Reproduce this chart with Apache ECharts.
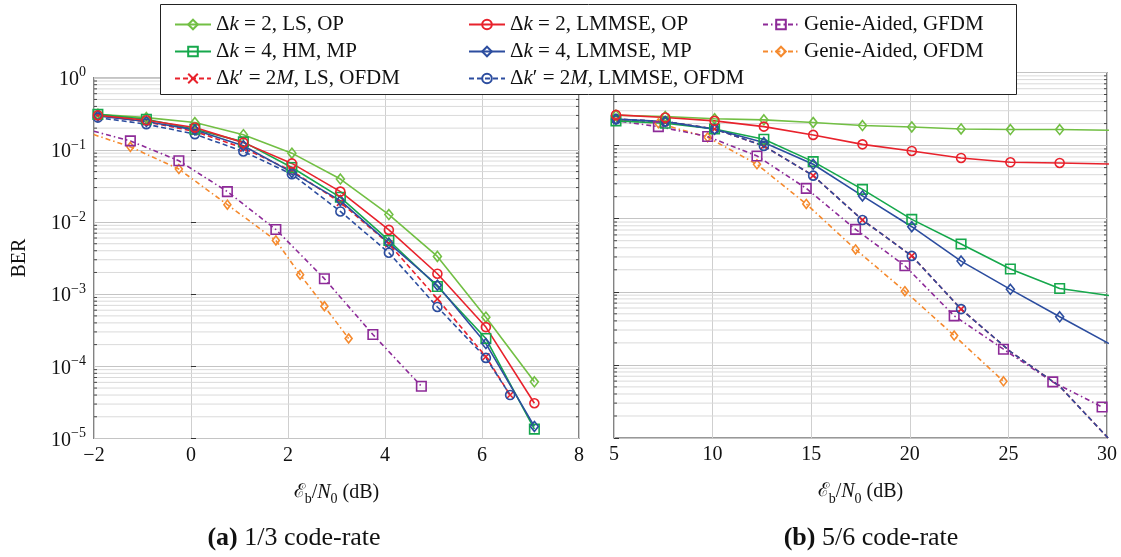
<!DOCTYPE html>
<html>
<head>
<meta charset="utf-8">
<script src="https://cdn.jsdelivr.net/npm/echarts@6/dist/echarts.min.js"></script>
<style>
  html, body { margin: 0; padding: 0; background: #fff; }
  #chart { width: 1121px; height: 557px; }
</style>
</head>
<body>
<div id="chart"></div>
<script>
// ---------- (a) 1/3 code-rate : Eb/N0 grids in dB ----------
const ebnoA        = [-1.92, -0.92, 0.08, 1.08, 2.08, 3.08, 4.08, 5.08, 6.08, 7.08];
const ebnoAofdm    = [-1.92, -0.92, 0.08, 1.08, 2.08, 3.08, 4.08, 5.08, 6.08, 6.58];
const ebnoAgenieG  = [-2.25, -1.25, -0.25, 0.75, 1.75, 2.75, 3.75, 4.75];
const ebnoAgenieO  = [-2.25, -1.25, -0.25, 0.75, 1.75, 2.25, 2.75, 3.25];

// BER values, 1/3 code-rate
const berA_dk2LS     = [0.312, 0.28, 0.239, 0.162, 0.090, 0.0394, 0.0127, 0.00334, 4.8e-4, 6.1e-5];
const berA_dk2LMMSE  = [0.302, 0.257, 0.204, 0.126, 0.0649, 0.0264, 0.00778, 0.00192, 3.5e-4, 3.08e-5];
const berA_dk4HM     = [0.31, 0.266, 0.193, 0.129, 0.057, 0.022, 0.00555, 0.00128, 2.43e-4, 1.35e-5];
const berA_dk4LMMSE  = [0.295, 0.247, 0.189, 0.114, 0.0487, 0.0198, 0.0051, 0.00133, 2.07e-4, 1.47e-5];
const berA_ofdmLS    = [0.30, 0.245, 0.18, 0.106, 0.051, 0.0187, 0.005, 8.6e-4, 1.36e-4, 4.0e-5];
const berA_ofdmLMMSE = [0.28, 0.227, 0.165, 0.095, 0.046, 0.014, 0.00375, 6.65e-4, 1.31e-4, 4.0e-5];
const berA_genieGFDM = [0.2, 0.133, 0.0706, 0.0264, 0.00787, 0.00164, 2.76e-4, 5.3e-5];
const berA_genieOFDM = [0.185, 0.110, 0.0542, 0.0174, 0.00555, 0.00186, 6.8e-4, 2.43e-4];

// ---------- (b) 5/6 code-rate : Eb/N0 grids in dB ----------
const ebnoB        = [5.1, 7.6, 10.1, 12.6, 15.1, 17.6, 20.1, 22.6, 25.1, 27.6, 30.1];
const ebnoBgenieG  = [4.75, 7.25, 9.75, 12.25, 14.75, 17.25, 19.75, 22.25, 24.75, 27.25, 29.75];
const ebnoBgenieO  = [4.75, 7.25, 9.75, 12.25, 14.75, 17.25, 19.75, 22.25, 24.75];

// BER values, 5/6 code-rate
const berB_dk2LS     = [0.26, 0.25, 0.233, 0.225, 0.207, 0.188, 0.180, 0.169, 0.166, 0.166, 0.162];
const berB_dk2LMMSE  = [0.263, 0.242, 0.218, 0.182, 0.140, 0.104, 0.0845, 0.0678, 0.0591, 0.0579, 0.056];
const berB_dk4HM     = [0.218, 0.202, 0.169, 0.122, 0.0604, 0.0252, 0.0098, 0.0045, 0.00205, 0.00111, 8.9e-4];
const berB_dk4LMMSE  = [0.23, 0.213, 0.167, 0.11, 0.0555, 0.0205, 0.00777, 0.00263, 0.00108, 4.55e-4, 1.96e-4];
const berB_ofdmLS    = [0.23, 0.213, 0.169, 0.099, 0.0388, 0.0096, 0.0031, 5.8e-4, 1.52e-4, 5.1e-5, 9.7e-6];
const berB_ofdmLMMSE = [0.23, 0.213, 0.169, 0.099, 0.0388, 0.0096, 0.0031, 5.8e-4, 1.52e-4, 5.1e-5, 9.7e-6];
const berB_genieGFDM = [0.225, 0.182, 0.133, 0.0722, 0.026, 0.00714, 0.00227, 4.69e-4, 1.64e-4, 5.85e-5, 2.66e-5];
const berB_genieOFDM = [0.23, 0.202, 0.130, 0.0555, 0.0159, 0.0038, 0.00102, 2.52e-4, 5.97e-5];
// the OFDM reference curves at 5/6 carry markers on their first points only
const ofdmMarkedPointsB = 8;

// x tick settings
const xTicksA = { min: -2, max: 8, step: 2 };
const xTicksB = { min: 5, max: 30, step: 5 };

// series names
const N = {
  dk2LS: 'Δk = 2, LS, OP',
  dk2LMMSE: 'Δk = 2, LMMSE, OP',
  genieG: 'Genie-Aided, GFDM',
  dk4HM: 'Δk = 4, HM, MP',
  dk4LMMSE: 'Δk = 4, LMMSE, MP',
  genieO: 'Genie-Aided, OFDM',
  ofdmLS: 'Δk′ = 2M, LS, OFDM',
  ofdmLMMSE: 'Δk′ = 2M, LMMSE, OFDM'
};

// rich-text legend labels (italic k and M)
const legendRich = {
  [N.dk2LS]: '{n|Δ}{i|k}{n| = 2, LS, OP}',
  [N.dk2LMMSE]: '{n|Δ}{i|k}{n| = 2, LMMSE, OP}',
  [N.genieG]: '{n|Genie-Aided, GFDM}',
  [N.dk4HM]: '{n|Δ}{i|k}{n| = 4, HM, MP}',
  [N.dk4LMMSE]: '{n|Δ}{i|k}{n| = 4, LMMSE, MP}',
  [N.genieO]: '{n|Genie-Aided, OFDM}',
  [N.ofdmLS]: '{n|Δ}{i|k}{n|′ = 2}{i|M}{n|, LS, OFDM}',
  [N.ofdmLMMSE]: '{n|Δ}{i|k}{n|′ = 2}{i|M}{n|, LMMSE, OFDM}'
};

const SERIF = 'Liberation Serif, Times New Roman, serif';
const C = {
  lightGreen: '#72bf44',
  red: '#e8222c',
  green: '#16a84c',
  blue: '#2c4d9f',
  purple: '#8d2a98',
  orange: '#f58a2e'
};
const XPATH = 'path://M0,0L10,10M10,0L0,10';

const styles = {
  [N.dk2LS]:    { color: C.lightGreen, symbol: 'diamond', size: [8, 10], dash: 'solid' },
  [N.dk2LMMSE]: { color: C.red, symbol: 'circle', size: 9, dash: 'solid' },
  [N.dk4HM]:    { color: C.green, symbol: 'rect', size: 9.5, dash: 'solid' },
  [N.dk4LMMSE]: { color: C.blue, symbol: 'diamond', size: [8, 10], dash: 'solid' },
  [N.ofdmLS]:   { color: C.red, symbol: XPATH, size: 7, dash: [5, 3] },
  [N.ofdmLMMSE]:{ color: C.blue, symbol: 'circle', size: 9, dash: [5, 3] },
  [N.genieG]:   { color: C.purple, symbol: 'rect', size: 9.5, dash: [5, 3, 1.5, 3] },
  [N.genieO]:   { color: C.orange, symbol: 'diamond', size: [7, 9], dash: [5, 3, 1.5, 3] }
};

function curve(name, xs, ys, g, markedCount) {
  const s = styles[name];
  const data = xs.map((x, i) => {
    if (markedCount !== undefined && i >= markedCount) {
      return { value: [x, ys[i]], symbol: 'none' };
    }
    return [x, ys[i]];
  });
  return {
    type: 'line', name, xAxisIndex: g, yAxisIndex: g, data,
    symbol: s.symbol, symbolSize: s.size, showAllSymbol: true, clip: true,
    lineStyle: { color: s.color, width: 1.6, type: s.dash },
    itemStyle: { color: 'rgba(255,255,255,0)', borderColor: s.color, borderWidth: 1.6 },
    emphasis: { disabled: true }, silent: true, z: 3
  };
}

// minor log grid lines (2..9 per decade) with small inward ticks on both sides
const minorVals = [];
for (let k = -5; k <= -1; k++) for (let m = 2; m <= 9; m++) minorVals.push(m * Math.pow(10, k));

function minorGrid(g, xmin) {
  return {
    type: 'custom', xAxisIndex: g, yAxisIndex: g, silent: true, z: 1, clip: true,
    data: minorVals.map(v => [xmin, v]),
    renderItem: (params, api) => {
      const cs = params.coordSys;
      const y = api.coord([api.value(0), api.value(1)])[1];
      const x0 = cs.x, x1 = cs.x + cs.width;
      return {
        type: 'group',
        children: [
          { type: 'line', shape: { x1: x0, y1: y, x2: x1, y2: y }, style: { stroke: '#dadada', lineWidth: 1 } },
          { type: 'line', shape: { x1: x0, y1: y, x2: x0 + 3, y2: y }, style: { stroke: '#444', lineWidth: 1 } },
          { type: 'line', shape: { x1: x1 - 3, y1: y, x2: x1, y2: y }, style: { stroke: '#444', lineWidth: 1 } }
        ]
      };
    }
  };
}

const tickFmt = v => (v < 0 ? '−' + (-v) : String(v));
const logFmt = v => {
  const e = Math.round(Math.log10(v));
  return '{b|10}{s|' + (e < 0 ? '−' + (-e) : e) + '}';
};
const xName = '{e|ℰ}{sub|b}{n|/}{i|N}{sub|0}{n| (dB)}';
const xNameRich = {
  e: { fontFamily: 'DejaVu Serif', fontSize: 19, lineHeight: 24, verticalAlign: 'top', color: '#111' },
  n: { fontFamily: SERIF, fontSize: 20, lineHeight: 24, verticalAlign: 'top', color: '#111' },
  i: { fontFamily: SERIF, fontStyle: 'italic', fontSize: 20, lineHeight: 24, verticalAlign: 'top', color: '#111' },
  sub: { fontFamily: SERIF, fontSize: 14, lineHeight: 14, verticalAlign: 'bottom', color: '#111' }
};

function xAxisDef(g, t) {
  return {
    type: 'value', gridIndex: g, min: t.min, max: t.max, interval: t.step,
    axisLine: { show: false }, axisTick: { show: false },
    axisLabel: { formatter: tickFmt, fontFamily: SERIF, fontSize: 20, color: '#111', margin: 7 },
    splitLine: { show: true, lineStyle: { color: '#cfcfcf', width: 1 } },
    name: xName, nameLocation: 'middle', nameGap: 44,
    nameTextStyle: { rich: xNameRich }
  };
}

function yAxisDef(g, withLabels) {
  const a = {
    type: 'log', logBase: 10, gridIndex: g, min: 1e-5, max: 1,
    axisLine: { show: false },
    axisTick: { show: true, inside: true, length: 5, lineStyle: { color: '#333' } },
    axisLabel: {
      show: withLabels, formatter: logFmt, margin: 8,
      rich: {
        b: { fontFamily: SERIF, fontSize: 20, lineHeight: 24, verticalAlign: 'bottom', color: '#111' },
        s: { fontFamily: SERIF, fontSize: 14, lineHeight: 14, verticalAlign: 'top', color: '#111' }
      }
    },
    splitLine: { show: true, lineStyle: { color: '#c4c4c4', width: 1.2 } },
    minorTick: { show: false }, minorSplitLine: { show: false }
  };
  if (withLabels) {
    a.name = 'BER';
    a.nameLocation = 'middle';
    a.nameRotate = 90;
    a.nameGap = 64;
    a.nameTextStyle = { fontFamily: SERIF, fontSize: 20, color: '#111' };
  }
  return a;
}

const legendText = {
  fontFamily: SERIF, fontSize: 21, color: '#111',
  rich: {
    n: { fontFamily: SERIF, fontSize: 21, color: '#111' },
    i: { fontFamily: SERIF, fontStyle: 'italic', fontSize: 21, color: '#111' }
  }
};
function legendCol(names, left) {
  return {
    data: names, orient: 'vertical', left, top: 9, itemGap: 6,
    itemWidth: 36, itemHeight: 12, selectedMode: false,
    formatter: nm => legendRich[nm], textStyle: legendText
  };
}

const series = [
  minorGrid(0, xTicksA.min),
  minorGrid(1, xTicksB.min),
  // (a) 1/3 code-rate
  curve(N.genieO, ebnoAgenieO, berA_genieOFDM, 0),
  curve(N.genieG, ebnoAgenieG, berA_genieGFDM, 0),
  curve(N.ofdmLS, ebnoAofdm, berA_ofdmLS, 0),
  curve(N.ofdmLMMSE, ebnoAofdm, berA_ofdmLMMSE, 0),
  curve(N.dk2LS, ebnoA, berA_dk2LS, 0),
  curve(N.dk4HM, ebnoA, berA_dk4HM, 0),
  curve(N.dk4LMMSE, ebnoA, berA_dk4LMMSE, 0),
  curve(N.dk2LMMSE, ebnoA, berA_dk2LMMSE, 0),
  // (b) 5/6 code-rate
  curve(N.genieO, ebnoBgenieO, berB_genieOFDM, 1),
  curve(N.genieG, ebnoBgenieG, berB_genieGFDM, 1),
  curve(N.ofdmLS, ebnoB, berB_ofdmLS, 1, ofdmMarkedPointsB),
  curve(N.ofdmLMMSE, ebnoB, berB_ofdmLMMSE, 1, ofdmMarkedPointsB),
  curve(N.dk2LS, ebnoB, berB_dk2LS, 1),
  curve(N.dk4HM, ebnoB, berB_dk4HM, 1),
  curve(N.dk4LMMSE, ebnoB, berB_dk4LMMSE, 1),
  curve(N.dk2LMMSE, ebnoB, berB_dk2LMMSE, 1)
];

const captionRich = {
  b: { fontFamily: SERIF, fontWeight: 'bold', fontSize: 26, fill: '#111' },
  n: { fontFamily: SERIF, fontSize: 26, fill: '#111' }
};

const chart = echarts.init(document.getElementById('chart'), null, { renderer: 'canvas' });
chart.setOption({
  animation: false,
  backgroundColor: '#fff',
  grid: [
    { left: 94, top: 77.7, width: 485, height: 360.8, show: true, borderColor: '#333', borderWidth: 1.2, backgroundColor: 'transparent' },
    { left: 614, top: 72.5, width: 493, height: 365.5, show: true, borderColor: '#333', borderWidth: 1.2, backgroundColor: 'transparent' }
  ],
  xAxis: [xAxisDef(0, xTicksA), xAxisDef(1, xTicksB)],
  yAxis: [yAxisDef(0, true), yAxisDef(1, false)],
  legend: [
    legendCol([N.dk2LS, N.dk4HM, N.ofdmLS], 169),
    legendCol([N.dk2LMMSE, N.dk4LMMSE, N.ofdmLMMSE], 463),
    legendCol([N.genieG, N.genieO], 757)
  ],
  graphic: [
    { type: 'rect', z: 3, shape: { x: 160.5, y: 4.5, width: 856, height: 90 },
      style: { fill: '#fff', stroke: '#222', lineWidth: 1 }, silent: true },
    { type: 'text', z: 5, x: 294, y: 538, silent: true,
      style: { text: '{b|(a)}{n| 1/3 code-rate}', align: 'center', verticalAlign: 'middle', rich: captionRich } },
    { type: 'text', z: 5, x: 871, y: 538, silent: true,
      style: { text: '{b|(b)}{n| 5/6 code-rate}', align: 'center', verticalAlign: 'middle', rich: captionRich } }
  ],
  series
});
</script>
</body>
</html>
